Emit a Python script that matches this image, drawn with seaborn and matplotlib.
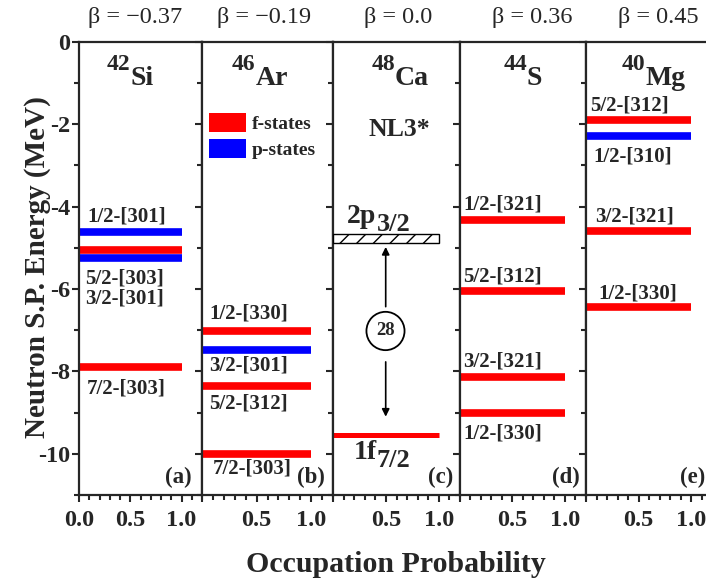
import matplotlib
matplotlib.use("Agg")
import matplotlib.pyplot as plt
import numpy as np
import pandas as pd
import seaborn as sns
from matplotlib.patches import Patch, Ellipse
from matplotlib.ticker import MultipleLocator, FixedLocator

# ---------------- data ----------------
panel_tags = ['(a)', '(b)', '(c)', '(d)', '(e)']
mass_numbers = ['42', '46', '48', '44', '40']
elements = ['Si', 'Ar', 'Ca', 'S', 'Mg']
beta_values = ['\u22120.37', '\u22120.19', '0.0', '0.36', '0.45']

si_energy = [-4.62, -5.06, -5.24, -7.90]
si_state = ['p', 'f', 'p', 'f']
si_orbit = ['1/2-[301]', '5/2-[303]', '3/2-[301]', '7/2-[303]']
si_occ = [1.0, 1.0, 1.0, 1.0]

ar_energy = [-7.02, -7.48, -8.36, -10.00]
ar_state = ['f', 'p', 'f', 'f']
ar_orbit = ['1/2-[330]', '3/2-[301]', '5/2-[312]', '7/2-[303]']
ar_occ = [1.0, 1.0, 1.0, 1.0]

ca_energy = [-9.55]
ca_state = ['f']
ca_orbit = ['1f7/2']
ca_occ = [1.0]
ca_empty_energy = -4.78      # 2p3/2 (unoccupied, hatched)
ca_empty_occ = 1.0
magic_number = '28'
model_name = 'NL3*'

s_energy = [-4.33, -6.05, -8.13, -9.01]
s_state = ['f', 'f', 'f', 'f']
s_orbit = ['1/2-[321]', '5/2-[312]', '3/2-[321]', '1/2-[330]']
s_occ = [1.0, 1.0, 1.0, 1.0]

mg_energy = [-1.91, -2.28, -4.59, -6.43]
mg_state = ['f', 'p', 'f', 'f']
mg_orbit = ['5/2-[312]', '1/2-[310]', '3/2-[321]', '1/2-[330]']
mg_occ = [1.0, 1.0, 1.0, 1.0]

legend_labels = ['f-states', 'p-states']
x_ticks = [0.0, 0.5, 1.0]
y_ticks = [0, -2, -4, -6, -8, -10]

# ---------------- layout ----------------
W, H = 706, 583
sns.set_style('ticks')
plt.rcParams['font.family'] = ['Liberation Serif', 'DejaVu Serif']
plt.rcParams['axes.unicode_minus'] = False
plt.rcParams['hatch.linewidth'] = 1.0

fig = plt.figure(figsize=(W / 100, H / 100), dpi=100)

def fx(px):
    return px / W

def fy(py):
    return 1 - py / H

edges = [79, 202, 333, 460, 586, 712]
top_px, bot_px = 41.7, 495.0

palette = {'f': '#ff0000', 'p': '#0000ff'}

panels = [
    (si_energy, si_state, si_orbit, si_occ),
    (ar_energy, ar_state, ar_orbit, ar_occ),
    (ca_energy, ca_state, ca_orbit, ca_occ),
    (s_energy, s_state, s_orbit, s_occ),
    (mg_energy, mg_state, mg_orbit, mg_occ),
]

# label positions (x, y) in data units, same order as levels
orbit_label_pos = [
    [(0.08, -4.25), (0.06, -5.74), (0.06, -6.23), (0.08, -8.41)],
    [(0.064, -6.59), (0.064, -7.85), (0.064, -8.77), (0.098, -10.35)],
    [],
    [(0.03, -3.96), (0.03, -5.70), (0.03, -7.77), (0.03, -9.50)],
    [(0.038, -1.56), (0.067, -2.79), (0.086, -4.23), (0.114, -6.10)],
]
nucleus_split_x = [0.50, 0.49, 0.586, 0.638, 0.565]
beta_px = [135, 264, 398, 532, 658]
tag_x = [1.10, 1.125, 1.134, 1.143, 1.133]
line_widths = [5.5, 5.5, 3.6, 5.5, 5.5]

axes = []
for i, (energy, state, orbit, occ) in enumerate(panels):
    l, r = edges[i], edges[i + 1]
    ax = fig.add_axes([fx(l), fy(bot_px), (r - l) / W, (bot_px - top_px) / H])
    axes.append(ax)

    rows = []
    for k, (e, s, o, q) in enumerate(zip(energy, state, orbit, occ)):
        rows.append({'occ': 0.0, 'energy': e, 'state': s, 'level': k})
        rows.append({'occ': q, 'energy': e, 'state': s, 'level': k})
    df = pd.DataFrame(rows)
    sns.lineplot(data=df, x='occ', y='energy', hue='state', units='level',
                 estimator=None, palette=palette, lw=line_widths[i],
                 legend=False, sort=False, ax=ax, solid_capstyle='butt')

    ax.set_xlim(0, 1.2)
    ax.set_ylim(-11, 0)
    ax.set_xlabel('')
    ax.set_ylabel('')
    ax.xaxis.set_major_locator(FixedLocator(x_ticks))
    ax.xaxis.set_minor_locator(MultipleLocator(0.1))
    ax.yaxis.set_major_locator(FixedLocator(y_ticks))
    ax.yaxis.set_minor_locator(MultipleLocator(1))
    ax.tick_params(which='major', direction='out', length=5, width=1.5,
                   labelsize=17.5, pad=1.5)
    ax.tick_params(which='minor', direction='out', length=3.5, width=1.5)
    ax.tick_params(axis='x', which='major', pad=6)
    ax.tick_params(left=True, right=False, top=False, bottom=True)
    if i == 0:
        ax.set_xticklabels(['0.0', '0.5', '1.0'])
        ax.set_yticklabels([str(t) for t in y_ticks])
    else:
        ax.set_xticklabels(['', '0.5', '1.0'])
        ax.tick_params(labelleft=False)
    for lab in ax.get_xticklabels() + ax.get_yticklabels():
        lab.set_fontweight('bold')
    for sp in ax.spines.values():
        sp.set_linewidth(1.6)
        sp.set_visible(True)
    ax.set_facecolor('white')

    for (tx, ty), o in zip(orbit_label_pos[i], orbit):
        ax.text(tx, ty, o, fontsize=15, fontweight='bold', ha='left', va='center')

    # nucleus label
    ax.text(nucleus_split_x[i], -0.69, mass_numbers[i], fontsize=17,
            fontweight='bold', ha='right', va='baseline')
    ax.text(nucleus_split_x[i], -1.05, elements[i], fontsize=20,
            fontweight='bold', ha='left', va='baseline')
    # panel tag
    ax.text(tag_x[i], -10.72, panel_tags[i], fontsize=16.5, fontweight='bold',
            ha='right', va='baseline')
    # beta
    fig.text(fx(beta_px[i]), fy(17), '\u03b2 = ' + beta_values[i],
             fontsize=17.5, ha='center', va='center')

# panel (c) extras
axc = axes[2]
axc.barh(y=ca_empty_energy, width=ca_empty_occ, height=0.22, left=0,
         facecolor='white', edgecolor='black', hatch='//', linewidth=1.0,
         zorder=3)
axc.text(0.413, -4.40, '2p', fontsize=20, fontweight='bold', ha='right', va='baseline')
axc.text(0.413, -4.60, '3/2', fontsize=19, fontweight='bold', ha='left', va='baseline')
axc.text(0.413, -10.12, '1f', fontsize=20, fontweight='bold', ha='right', va='baseline')
axc.text(0.413, -10.32, '7/2', fontsize=19, fontweight='bold', ha='left', va='baseline')
axc.text(0.624, -2.12, model_name, fontsize=18.5, fontweight='bold', ha='center', va='center')
axc.add_patch(Ellipse((0.496, -7.02), width=0.36, height=0.93, fill=False,
                      lw=1.3, edgecolor='black'))
axc.text(0.496, -7.02, magic_number, fontsize=13.5, fontweight='bold',
         ha='center', va='center')
arrow = dict(arrowstyle='-|>', color='black', lw=1.2, mutation_scale=11,
             shrinkA=0, shrinkB=0)
axc.annotate('', xy=(0.498, -4.98), xytext=(0.498, -6.43), arrowprops=arrow)
axc.annotate('', xy=(0.498, -9.10), xytext=(0.498, -7.77), arrowprops=arrow)

# legend in panel (b)
handles = [Patch(facecolor=palette['f'], edgecolor='none', label=legend_labels[0]),
           Patch(facecolor=palette['p'], edgecolor='none', label=legend_labels[1])]
leg = axes[1].legend(handles=handles, loc='upper left',
                     bbox_to_anchor=(fx(209), fy(113)),
                     bbox_transform=fig.transFigure, frameon=False,
                     borderpad=0, borderaxespad=0, handlelength=1.9,
                     handleheight=1.1, handletextpad=0.3, labelspacing=0.32,
                     prop={'family': 'Liberation Serif', 'weight': 'bold', 'size': 14})

fig.text(fx(38), fy(267), 'Neutron S.P. Energy (MeV)', rotation=90,
         fontsize=21, fontweight='bold', ha='center', va='center')
fig.text(fx(396), fy(565), 'Occupation Probability', fontsize=21.5,
         fontweight='bold', ha='center', va='center')

fig.savefig('out.png', dpi=100, facecolor='white')
